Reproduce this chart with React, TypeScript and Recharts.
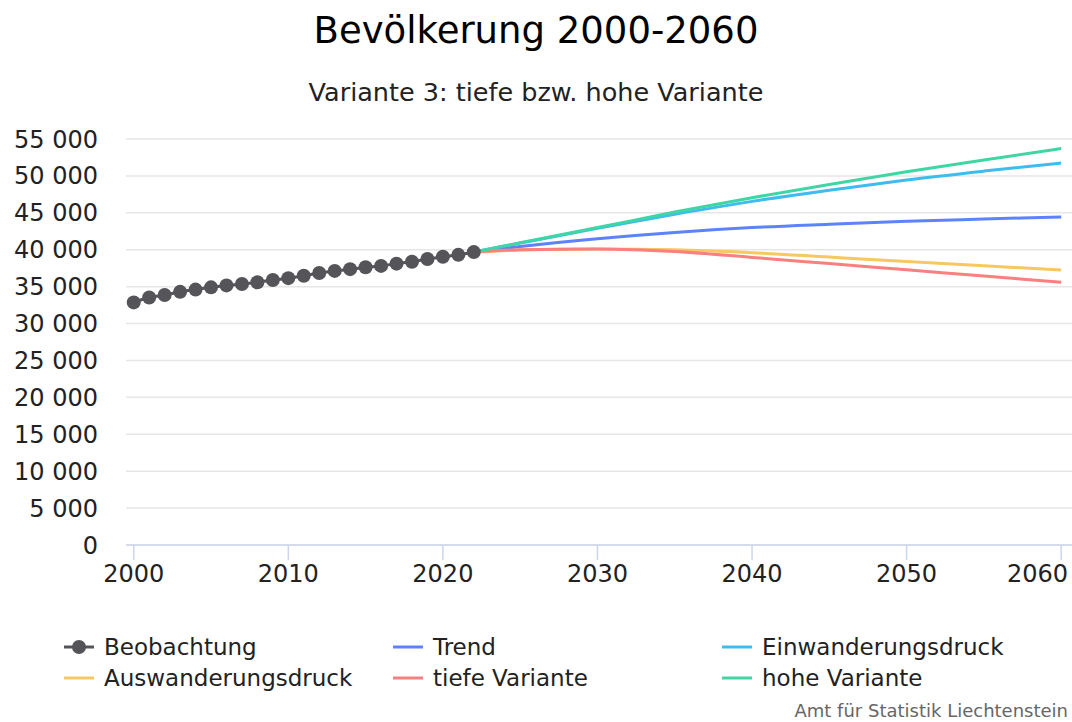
import React from 'react';
import { LineChart, Line, XAxis, YAxis, CartesianGrid } from 'recharts';

// Beobachtung 2000-2022
const obsYears = [
	2000, 2001, 2002, 2003, 2004, 2005, 2006, 2007, 2008, 2009, 2010, 2011,
	2012, 2013, 2014, 2015, 2016, 2017, 2018, 2019, 2020, 2021, 2022,
];
const obsValues = [
	32863, 33525, 33863, 34294, 34600, 34905, 35168, 35356, 35589, 35894,
	36149, 36475, 36838, 37129, 37366, 37622, 37810, 38114, 38378, 38749,
	39055, 39308, 39680,
];

// Szenarien 2022-2060
const projYears = [2022, 2025, 2030, 2035, 2040, 2045, 2050, 2055, 2060];
const trendValues = [39680, 40450, 41500, 42350, 43000, 43450, 43850, 44150, 44450];
const einwValues = [39680, 40900, 42900, 44800, 46550, 48050, 49450, 50650, 51750];
const auswValues = [39680, 39950, 40100, 40000, 39600, 39000, 38400, 37820, 37250];
const tiefeValues = [39680, 40000, 40100, 39750, 38960, 38120, 37280, 36440, 35600];
const hoheValues = [39680, 40950, 43000, 45100, 47050, 48850, 50550, 52150, 53700];

const xTicks = [2000, 2010, 2020, 2030, 2040, 2050, 2060];
const yTicks = [0, 5000, 10000, 15000, 20000, 25000, 30000, 35000, 40000, 45000, 50000, 55000];

const FONT = '"DejaVu Sans", Verdana, sans-serif';

const COLORS = {
	obs: '#545459',
	trend: '#5d83fb',
	einw: '#3dbcef',
	ausw: '#f6c85f',
	tiefe: '#fa7f7f',
	hohe: '#3fd6a5',
	grid: '#e6e6e6',
	axis: '#ccd6eb',
	text: '#222222',
};

const toSeries = (years: number[], values: number[]) =>
	years.map((year, i) => ({ year, value: values[i] }));

const series = [
	{ key: 'obs', name: 'Beobachtung', color: COLORS.obs, data: toSeries(obsYears, obsValues), dots: true },
	{ key: 'trend', name: 'Trend', color: COLORS.trend, data: toSeries(projYears, trendValues) },
	{ key: 'einw', name: 'Einwanderungsdruck', color: COLORS.einw, data: toSeries(projYears, einwValues) },
	{ key: 'ausw', name: 'Auswanderungsdruck', color: COLORS.ausw, data: toSeries(projYears, auswValues) },
	{ key: 'tiefe', name: 'tiefe Variante', color: COLORS.tiefe, data: toSeries(projYears, tiefeValues) },
	{ key: 'hohe', name: 'hohe Variante', color: COLORS.hohe, data: toSeries(projYears, hoheValues) },
];

// legend layout: 3 columns, 2 rows
const legendCols = [62, 391, 720];
const legendRows = [647, 678];

const formatThousands = (v: number) =>
	String(v).replace(/\B(?=(\d{3})+(?!\d))/g, ' ');

// x tick that keeps the last label inside the chart, like the original
function XTick({ x, y, payload }: any) {
	const half = 31;
	const overflow = x + half > 1068;
	return (
		<text
			x={overflow ? 1068 : x}
			y={y}
			dy="0.71em"
			textAnchor={overflow ? 'end' : 'middle'}
			fill={COLORS.text}
			fontSize={24}
			fontFamily={FONT}
		>
			{payload.value}
		</text>
	);
}

export default function App() {
	return (
		<div
			style={{
				position: 'absolute',
				left: 0,
				top: 0,
				width: 1072,
				height: 722,
				background: '#fff',
				fontFamily: FONT,
				color: COLORS.text,
				overflow: 'hidden',
			}}
		>
			<div
				style={{
					position: 'absolute',
					top: 9,
					width: '100%',
					textAlign: 'center',
					fontSize: 37,
					lineHeight: '44px',
					color: '#000',
				}}
			>
				Bevölkerung 2000-2060
			</div>
			<div
				style={{
					position: 'absolute',
					top: 77,
					width: '100%',
					textAlign: 'center',
					fontSize: 25.5,
					lineHeight: '30px',
					color: COLORS.text,
				}}
			>
				Variante 3: tiefe bzw. hohe Variante
			</div>

			<LineChart
				width={1072}
				height={722}
				margin={{ top: 139, right: 0, left: 0, bottom: 117 }}
				style={{ position: 'absolute', left: 0, top: 0 }}
			>
				<CartesianGrid vertical={false} stroke={COLORS.grid} strokeWidth={1.5} />
				<XAxis
					type="number"
					dataKey="year"
					domain={[1999.5, 2060.7]}
					ticks={xTicks}
					allowDuplicatedCategory={false}
					height={60}
					tickSize={15}
					tickMargin={5}
					stroke={COLORS.axis}
					strokeWidth={1.5}
					tick={<XTick />}
				/>
				<YAxis
					type="number"
					domain={[0, 55000]}
					ticks={yTicks}
					width={126}
					axisLine={false}
					tickLine={false}
					tickMargin={22}
					tickFormatter={formatThousands}
					tick={{ fill: COLORS.text, fontSize: 24, fontFamily: FONT }}
				/>
				{series.map((s) => (
					<Line
						key={s.key}
						data={s.data}
						dataKey="value"
						name={s.name}
						type="monotone"
						stroke={s.color}
						strokeWidth={3}
						dot={s.dots ? { r: 7, fill: s.color, stroke: 'none' } : false}
						activeDot={false}
						isAnimationActive={false}
					/>
				))}
			</LineChart>

			{series.map((s, i) => (
				<div
					key={s.key}
					style={{
						position: 'absolute',
						left: legendCols[i % 3],
						top: legendRows[Math.floor(i / 3)] - 15,
						height: 30,
						display: 'flex',
						alignItems: 'center',
						fontSize: 23,
						color: COLORS.text,
						whiteSpace: 'nowrap',
					}}
				>
					<svg width={34} height={30} style={{ marginRight: 8 }}>
						<line x1={2} x2={32} y1={15} y2={15} stroke={s.color} strokeWidth={3} />
						{s.dots && <circle cx={17} cy={15} r={7} fill={s.color} />}
					</svg>
					{s.name}
				</div>
			))}

			<div
				style={{
					position: 'absolute',
					right: 4,
					top: 700,
					fontSize: 18,
					lineHeight: '22px',
					color: '#666',
				}}
			>
				Amt für Statistik Liechtenstein
			</div>
		</div>
	);
}
